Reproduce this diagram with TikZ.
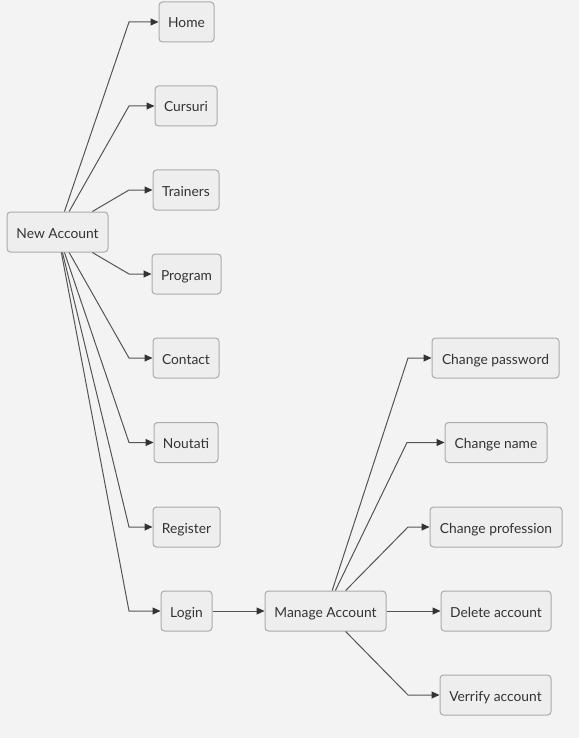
\documentclass[tikz,border=0pt]{standalone}
\usepackage{fontspec}
\setmainfont{Lato}
\usetikzlibrary{arrows.meta}
\definecolor{bg}{HTML}{F3F3F3}
\definecolor{boxfill}{HTML}{EEEEEE}
\definecolor{boxline}{HTML}{ABABAB}
\definecolor{txt}{HTML}{333333}
\definecolor{wire}{HTML}{555555}
\tikzset{
  box/.style={draw=boxline, fill=boxfill, line width=1pt, rounded corners=3.5pt,
    minimum height=40pt, inner sep=0pt, text=txt, text height=12pt, text depth=0pt,
    font=\fontsize{13.8}{16}\selectfont},
  link/.style={draw=wire, line width=1pt,
    -{Triangle[length=8pt,width=7pt,fill=txt,color=txt]}}
}
\begin{document}
\begin{tikzpicture}[x=1pt,y=-1pt]
\fill[bg] (0,0) rectangle (579,738);
\useasboundingbox (0,0) rectangle (579,738);

% left column
\node[box, minimum width=101pt] (na) at (57.5,232) {New Account};
\node[box, minimum width=55pt] (home) at (186.5,22) {Home};
\node[box, minimum width=62pt] (cursuri) at (186,106) {Cursuri};
\node[box, minimum width=66pt] (trainers) at (186,190) {Trainers};
\node[box, minimum width=69pt] (program) at (186.5,274) {Program};
\node[box, minimum width=66pt] (contact) at (186,358) {Contact};
\node[box, minimum width=64pt] (noutati) at (186,442.5) {Noutati};
\node[box, minimum width=67pt] (register) at (186.5,527) {Register};
\node[box, minimum width=51pt] (login) at (186.5,611) {Login};

% account management
\node[box, minimum width=121pt] (manage) at (325.5,611) {Manage Account};
\node[box, minimum width=127pt] (pass) at (495.5,358) {Change password};
\node[box, minimum width=102pt] (name) at (496,442.5) {Change name};
\node[box, minimum width=132pt] (prof) at (496,527) {Change profession};
\node[box, minimum width=110pt] (del) at (496,611) {Delete account};
\node[box, minimum width=111pt] (ver) at (495.5,695) {Verrify account};

% bend points
\coordinate (b1) at (129,22);
\coordinate (b2) at (129,106);
\coordinate (b3) at (129,190);
\coordinate (b4) at (129,274);
\coordinate (b5) at (129,358);
\coordinate (b6) at (129,442.5);
\coordinate (b7) at (129,527);
\coordinate (b8) at (129,611);
\coordinate (c1) at (408,358);
\coordinate (c2) at (407,442.5);
\coordinate (c3) at (408,527);
\coordinate (c5) at (408,695);

\draw[link] (na) -- (b1) -- (home);
\draw[link] (na) -- (b2) -- (cursuri);
\draw[link] (na) -- (b3) -- (trainers);
\draw[link] (na) -- (b4) -- (program);
\draw[link] (na) -- (b5) -- (contact);
\draw[link] (na) -- (b6) -- (noutati);
\draw[link] (na) -- (b7) -- (register);
\draw[link] (na) -- (b8) -- (login);
\draw[link] (login) -- (manage);
\draw[link] (manage) -- (c1) -- (pass);
\draw[link] (manage) -- (c2) -- (name);
\draw[link] (manage) -- (c3) -- (prof);
\draw[link] (manage) -- (del);
\draw[link] (manage) -- (c5) -- (ver);
\end{tikzpicture}
\end{document}
